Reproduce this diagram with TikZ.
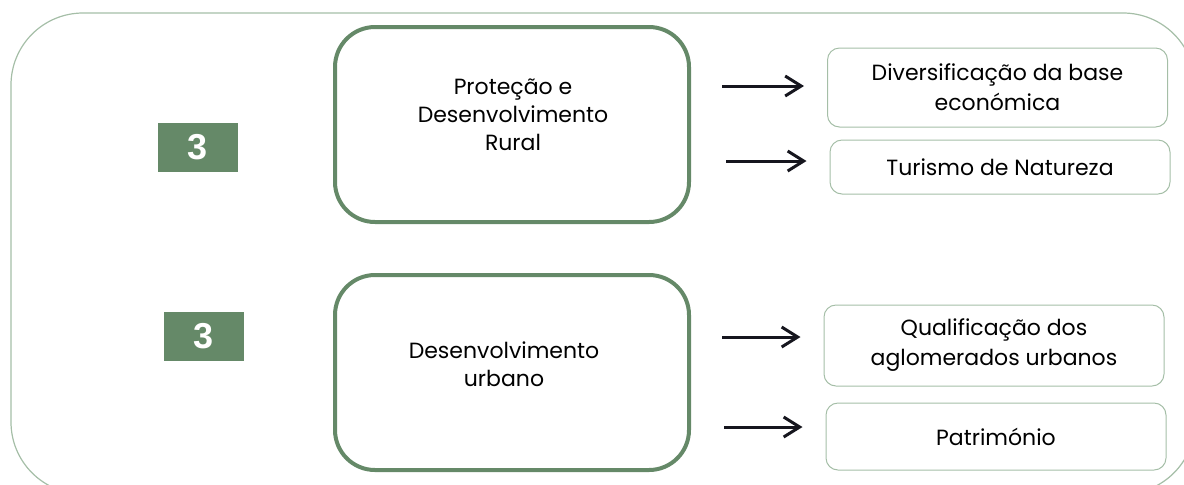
\documentclass[tikz,border=0pt]{standalone}
\usepackage{fontspec}
\setmainfont{Poppins}
\newfontfamily\numfont{Liberation Sans}
\usetikzlibrary{arrows.meta}
\definecolor{sage}{RGB}{101,137,104}
\definecolor{pale}{RGB}{165,190,167}
\definecolor{ink}{RGB}{22,22,30}

\begin{document}
\begin{tikzpicture}[x=0.5pt, y=-0.5pt,
  frame/.style={draw=pale, line width=0.6pt, rounded corners=36pt},
  big/.style={draw=sage, line width=2pt, rounded corners=20pt,
    minimum width=177pt, minimum height=97.5pt},
  txt/.style={align=center, font=\fontsize{11}{14}\selectfont},
  item/.style={draw=pale, line width=0.5pt, rounded corners=6pt,
    minimum width=170pt, align=center, font=\fontsize{11}{15}\selectfont},
  num/.style={fill=sage, text=white, minimum width=40pt, minimum height=24.5pt,
    font=\numfont\bfseries\fontsize{18}{18}\selectfont},
  arr/.style={-{Straight Barb[length=8pt,width=10pt,line width=1.5pt]},
    draw=ink, line width=1.5pt, shorten >=11.5pt}]
\clip (0,0) rectangle (1184,484);
\draw[frame] (11,13) rectangle (1195,494);

% axis 3 rural
\node[num] (N1) at (198,147.5) {3};
\node[big] (R) at (512,124.5) {};
\node[txt] (Rt) at (513,114.5) {Proteção e\\Desenvolvimento\\Rural};
\node[item, minimum height=39.5pt] (A) at (997.5,87.5) {Diversificação da base\\económica};
\node[item, minimum height=27pt] (B) at (1000,167) {Turismo de Natureza};

% axis 3 urbano
\node[num] (N2) at (203.5,336) {3};
\node[big] (U) at (512,372.5) {};
\node[txt] (Ut) at (504,364) {Desenvolvimento\\urbano};
\node[item, minimum height=40.5pt] (C) at (994,345.5) {Qualificação dos\\aglomerados urbanos};
\node[item, minimum height=33.5pt] (D) at (996,436.5) {Património};

\coordinate (a1) at (722,86);
\coordinate (a2) at (726,161);
\coordinate (a3) at (722,337);
\coordinate (a4) at (724,427);
\draw[arr] (a1) -- (a1 -| A.west);
\draw[arr] (a2) -- (a2 -| B.west);
\draw[arr] (a3) -- (a3 -| C.west);
\draw[arr] (a4) -- (a4 -| D.west);
\end{tikzpicture}
\end{document}
